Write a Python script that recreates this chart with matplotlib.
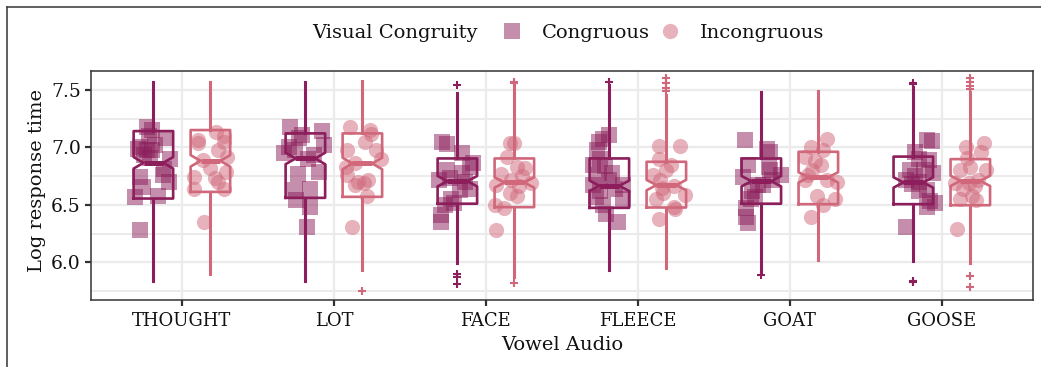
import matplotlib
matplotlib.use("Agg")
import matplotlib.pyplot as plt
from matplotlib.lines import Line2D

# ---------------- data ----------------
categories = ["THOUGHT", "LOT", "FACE", "FLEECE", "GOAT", "GOOSE"]
group_names = ["Congruous", "Incongruous"]

# Box statistics (log response time), per category
cong_q1 = [6.555, 6.561, 6.510, 6.474, 6.510, 6.506]
cong_med = [6.866, 6.904, 6.706, 6.666, 6.706, 6.695]
cong_q3 = [7.142, 7.122, 6.904, 6.904, 6.904, 6.920]
cong_lo = [5.837, 5.834, 5.990, 5.936, 5.915, 6.010]
cong_hi = [7.572, 7.572, 7.470, 7.544, 7.486, 7.530]
cong_ci = [0.05, 0.05, 0.045, 0.045, 0.045, 0.045]
cong_out = [[], [], [7.544, 5.90, 5.87, 5.81], [7.572], [5.89], [7.564, 7.555, 5.84, 5.83]]

inc_q1 = [6.613, 6.570, 6.480, 6.477, 6.506, 6.497]
inc_med = [6.883, 6.860, 6.695, 6.672, 6.739, 6.709]
inc_q3 = [7.151, 7.122, 6.904, 6.875, 6.962, 6.898]
inc_lo = [5.900, 5.930, 5.870, 5.954, 6.017, 5.994]
inc_hi = [7.572, 7.581, 7.544, 7.456, 7.494, 7.486]
inc_ci = [0.05, 0.05, 0.045, 0.045, 0.045, 0.045]
inc_out = [[], [5.75], [7.572, 7.56, 5.82], [7.60, 7.56, 7.52, 7.49], [], [7.60, 7.57, 7.535, 7.506, 5.883, 5.785]]

# Participant means (jittered points): values and horizontal jitter
cong_pts = [
    [7.175, 7.15, 7.006, 6.977, 6.977, 6.93, 6.91, 7.08, 6.90, 6.74, 6.76, 6.70, 6.657, 6.57, 6.58, 6.285, 6.81, 7.02, 7.10, 6.99],
    [7.18, 7.14, 7.11, 7.006, 6.98, 7.02, 6.90, 6.77, 6.79, 6.63, 6.64, 6.54, 6.48, 6.31, 6.93, 7.08, 6.95],
    [7.05, 7.03, 6.95, 6.83, 6.80, 6.715, 6.78, 6.86, 6.64, 6.63, 6.555, 6.50, 6.41, 6.35, 6.52, 6.70, 6.73],
    [7.11, 7.05, 7.07, 6.98, 6.90, 6.85, 6.84, 6.76, 6.715, 6.67, 6.64, 6.57, 6.555, 6.50, 6.42, 6.35, 6.67, 6.62, 6.78],
    [7.064, 6.99, 6.96, 6.85, 6.83, 6.76, 6.74, 6.80, 6.67, 6.57, 6.55, 6.47, 6.395, 6.34, 6.67, 6.72, 6.62],
    [7.064, 7.06, 6.96, 6.90, 6.89, 6.80, 6.80, 6.78, 6.715, 6.75, 6.63, 6.62, 6.53, 6.52, 6.48, 6.31, 6.70, 6.68],
]
cong_jit = [
    [-0.04, -0.01, -0.09, -0.04, -0.01, -0.06, -0.02, 0.08, 0.11, -0.09, 0.06, 0.10, -0.07, -0.12, 0.03, -0.09, 0.07, 0.01, -0.03, -0.10],
    [-0.10, 0.11, -0.02, -0.11, -0.07, 0.12, 0.02, -0.05, 0.09, -0.07, 0.03, -0.06, 0.03, 0.01, 0.06, -0.04, -0.14],
    [-0.10, -0.07, 0.03, 0.08, -0.07, -0.12, 0.03, 0.10, 0.08, 0.02, -0.04, -0.08, -0.11, -0.11, -0.02, 0.05, -0.05],
    [0.00, -0.07, -0.04, -0.08, -0.06, -0.11, -0.03, -0.07, 0.00, -0.11, 0.04, -0.09, 0.09, -0.04, -0.02, 0.06, 0.09, -0.06, 0.02],
    [-0.11, 0.04, 0.06, -0.09, 0.05, 0.13, -0.12, 0.06, 0.01, -0.04, -0.07, -0.10, -0.10, -0.09, -0.02, 0.07, -0.06],
    [0.09, 0.12, 0.01, 0.04, 0.10, -0.02, 0.07, 0.13, -0.05, 0.01, 0.09, 0.04, 0.11, 0.14, 0.09, -0.05, 0.04, -0.01],
]
inc_pts = [
    [7.137, 7.064, 7.05, 7.10, 6.977, 6.92, 6.89, 6.817, 6.74, 6.79, 6.73, 6.64, 6.64, 6.35, 6.70, 7.04],
    [7.175, 7.15, 6.98, 7.05, 6.98, 6.90, 6.86, 6.83, 6.76, 6.715, 6.67, 6.69, 6.58, 6.31, 7.12, 6.70],
    [7.035, 7.04, 6.92, 6.83, 6.82, 6.77, 6.69, 6.66, 6.67, 6.60, 6.58, 6.50, 6.47, 6.28, 6.75, 6.72],
    [7.01, 7.01, 6.896, 6.80, 6.76, 6.72, 6.66, 6.59, 6.60, 6.555, 6.48, 6.46, 6.38, 6.85, 6.65],
    [7.07, 7.006, 6.92, 6.977, 6.85, 6.80, 6.715, 6.70, 6.58, 6.555, 6.50, 6.395, 6.72, 6.76, 6.88],
    [7.006, 7.04, 6.96, 6.91, 6.80, 6.80, 6.83, 6.69, 6.69, 6.66, 6.58, 6.555, 6.54, 6.29, 6.72, 6.64],
]
inc_jit = [
    [0.04, -0.08, 0.09, 0.09, 0.05, 0.11, -0.05, 0.00, -0.11, 0.10, 0.03, -0.11, 0.09, -0.04, 0.05, -0.08],
    [-0.08, 0.05, -0.10, 0.02, 0.09, 0.12, -0.05, -0.11, -0.10, 0.04, -0.05, 0.01, 0.03, -0.07, 0.06, -0.03],
    [-0.03, 0.00, -0.05, 0.02, 0.07, -0.09, 0.11, 0.03, -0.12, -0.03, 0.02, -0.13, -0.07, -0.12, 0.05, -0.02],
    [-0.05, 0.09, -0.05, 0.00, -0.09, -0.04, 0.05, 0.12, -0.02, -0.07, 0.05, 0.06, -0.05, 0.03, -0.03],
    [0.06, -0.05, -0.09, 0.03, 0.02, -0.04, -0.09, 0.12, -0.01, 0.11, 0.03, -0.05, 0.06, -0.07, -0.02],
    [-0.03, 0.09, 0.07, -0.02, 0.10, -0.07, 0.00, -0.10, -0.01, 0.03, 0.01, -0.07, 0.04, -0.09, 0.05, -0.05],
]

# ---------------- style ----------------
FONT = "DejaVu Serif"
FS = 13.5
plt.rcParams["font.family"] = [FONT]
plt.rcParams["font.size"] = FS

C_CONG = "#8B1E5B"
C_INC = "#D0677A"
TXT = "#111111"
GRID = "#EBEBEB"
SPINE = "#333333"
DODGE = 0.1875
BOXW = 0.26

W, H = 1041, 367
fig = plt.figure(figsize=(W / 100, H / 100), dpi=100)
ax = fig.add_axes([90.7 / W, 1 - 300 / H, (1033 - 90.7) / W, (300 - 71) / H])

ax.set_xlim(-0.6, 5.6)
ax.set_ylim(5.672, 7.665)

# grid / ticks
ax.set_yticks([6.0, 6.5, 7.0, 7.5])
ax.set_yticks([5.75, 6.25, 6.75, 7.25], minor=True)
ax.set_xticks(range(len(categories)))
ax.set_xticklabels(categories)
ax.set_yticklabels(["6.0", "6.5", "7.0", "7.5"])
ax.grid(True, which="major", color=GRID, lw=1.6, zorder=0)
ax.grid(True, which="minor", axis="y", color=GRID, lw=1.4, zorder=0)
ax.set_axisbelow(True)
ax.tick_params(axis="both", which="major", length=4, width=1.6, color=SPINE, labelcolor=TXT)
ax.tick_params(axis="x", pad=5, labelsize=13)
ax.tick_params(axis="y", pad=3, labelsize=FS)
ax.tick_params(which="minor", length=0)
for s in ax.spines.values():
    s.set_color(SPINE)
    s.set_linewidth(1.1)


def make_stats(q1, med, q3, lo, hi, ci, out):
    st = []
    for i in range(len(q1)):
        st.append(dict(q1=q1[i], med=med[i], q3=q3[i], whislo=lo[i], whishi=hi[i],
                       cilo=med[i] - ci[i], cihi=med[i] + ci[i], fliers=out[i]))
    return st


def draw_boxes(stats, offset, color):
    pos = [i + offset for i in range(len(stats))]
    ax.bxp(stats, positions=pos, widths=BOXW, shownotches=True, showcaps=False,
           showfliers=True, manage_ticks=False,
           boxprops=dict(color=color, lw=1.9),
           whiskerprops=dict(color=color, lw=2.2),
           medianprops=dict(color=color, lw=3.6, solid_capstyle="butt"),
           flierprops=dict(marker="+", markeredgecolor=color, markersize=6, markeredgewidth=1.5),
           zorder=2)


draw_boxes(make_stats(cong_q1, cong_med, cong_q3, cong_lo, cong_hi, cong_ci, cong_out), -DODGE, C_CONG)
draw_boxes(make_stats(inc_q1, inc_med, inc_q3, inc_lo, inc_hi, inc_ci, inc_out), DODGE, C_INC)

for i in range(len(categories)):
    xs = [i - DODGE + j for j in cong_jit[i]]
    ax.scatter(xs, cong_pts[i], marker="s", s=125, color=C_CONG, alpha=0.5, linewidths=0, zorder=3)
    xs = [i + DODGE + j for j in inc_jit[i]]
    ax.scatter(xs, inc_pts[i], marker="o", s=120, color=C_INC, alpha=0.5, linewidths=0, zorder=3)

# axis labels
fig.text(562 / W, 1 - 345 / H, "Vowel Audio", ha="center", va="center", fontsize=14, color=TXT)
fig.text(37 / W, 1 - 181 / H, "Log response time", ha="center", va="center", rotation=90,
         fontsize=14, color=TXT)

# legend: title on the left, then one entry per group
LEG_Y = 1 - 33 / H
fig.text(312 / W, LEG_Y, "Visual Congruity", ha="left", va="center", fontsize=14, color=TXT)
handles = [
    Line2D([], [], ls="", marker="s", markersize=11.5, markerfacecolor=C_CONG, alpha=0.5, markeredgewidth=0),
    Line2D([], [], ls="", marker="o", markersize=11, markerfacecolor=C_INC, alpha=0.5, markeredgewidth=0),
]
leg_left = [502.6, 660.6]
for h, name, x0 in zip(handles, group_names, leg_left):
    fig.legend([h], [name], loc="center left", bbox_to_anchor=(x0 / W, LEG_Y),
               frameon=False, fontsize=14, handlelength=1.0, handletextpad=1.0,
               borderpad=0, borderaxespad=0, labelcolor=TXT)

# outer frame (top and left edges)
fig.add_artist(Line2D([7 / W, 7 / W], [0, 1 - 7 / H], transform=fig.transFigure, color="#444444", lw=1.2))
fig.add_artist(Line2D([7 / W, 1], [1 - 7 / H, 1 - 7 / H], transform=fig.transFigure, color="#444444", lw=1.2))

fig.savefig("out.png", dpi=100)
